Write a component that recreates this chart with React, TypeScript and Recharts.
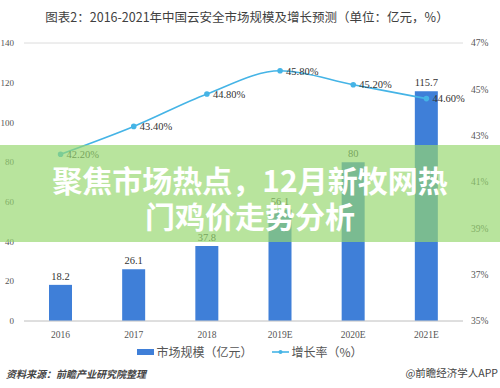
import { ComposedChart, Bar, Line, XAxis, YAxis, CartesianGrid, LabelList } from "recharts";

const years = ["2016", "2017", "2018", "2019E", "2020E", "2021E"];
const marketSize = [18.2, 26.1, 37.8, 56.1, 80, 115.7];
const growthRate = [42.2, 43.4, 44.8, 45.8, 45.2, 44.6];
const leftTicks = [0, 20, 40, 60, 80, 100, 120, 140];
const rightTicks = [35, 37, 39, 41, 43, 45, 47];

const data = years.map((year, i) => ({ year, size: marketSize[i], rate: growthRate[i] }));

const serif = "'Liberation Serif', 'DejaVu Serif', serif";
const cjk = "'Noto Sans CJK SC', sans-serif";
const barColor = "#3f7fd8";
const lineColor = "#45b4e6";

export default function App() {
  return (
    <div
      style={{
        position: "absolute",
        left: 0,
        top: 0,
        width: 500,
        height: 388,
        background: "#fff",
        overflow: "hidden",
        fontFamily: cjk,
      }}
    >
      <div
        style={{
          position: "absolute",
          top: 7,
          left: 0,
          width: 494,
          textAlign: "center",
          fontSize: 12.5,
          color: "#404040",
        }}
      >
        图表2：2016-2021年中国云安全市场规模及增长预测（单位：亿元，%）
      </div>

      <ComposedChart width={500} height={388} data={data} margin={{ top: 43, right: 0, left: 0, bottom: 47 }}>
        <CartesianGrid vertical={false} stroke="#dcdcdc" />
        <XAxis
          dataKey="year"
          height={20}
          tickLine={false}
          axisLine={{ stroke: "#d0d0d0" }}
          tick={{ fontSize: 9.5, fill: "#555", fontFamily: serif }}
          tickMargin={4}
        />
        <YAxis
          yAxisId="left"
          width={24}
          domain={[0, 140]}
          ticks={leftTicks}
          tickLine={false}
          axisLine={false}
          tickMargin={4}
          tick={{ fontSize: 9, fill: "#555", fontFamily: serif }}
        />
        <YAxis
          yAxisId="right"
          orientation="right"
          width={37}
          domain={[35, 47]}
          ticks={rightTicks}
          tickLine={false}
          axisLine={false}
          tickFormatter={(v) => `${v}%`}
          tick={{ fontSize: 9.5, fill: "#555", fontFamily: serif }}
        />
        <Bar yAxisId="left" dataKey="size" fill={barColor} barSize={23} isAnimationActive={false}>
          <LabelList dataKey="size" position="top" offset={5} style={{ fontSize: 10.5, fill: "#333", fontFamily: serif }} />
        </Bar>
        <Line
          yAxisId="right"
          type="monotone"
          dataKey="rate"
          stroke={lineColor}
          strokeWidth={1.6}
          dot={{ r: 2, fill: lineColor, stroke: lineColor }}
          isAnimationActive={false}
        >
          <LabelList
            dataKey="rate"
            position="right"
            offset={6}
            formatter={(v: number) => `${v.toFixed(2)}%`}
            style={{ fontSize: 10.5, fill: "#333", fontFamily: serif }}
          />
        </Line>
      </ComposedChart>

      <div
        style={{
          position: "absolute",
          top: 343,
          left: 0,
          width: 500,
          display: "flex",
          justifyContent: "center",
          alignItems: "center",
          fontSize: 12,
          color: "#555",
          gap: 20,
        }}
      >
        <span style={{ display: "flex", alignItems: "center" }}>
          <span style={{ width: 17, height: 6, background: barColor, marginRight: 2 }} />
          市场规模（亿元）
        </span>
        <span style={{ display: "flex", alignItems: "center" }}>
          <svg width={17} height={8} style={{ marginRight: 2 }}>
            <line x1={0} y1={4} x2={17} y2={4} stroke={lineColor} strokeWidth={1.6} />
            <circle cx={8.5} cy={4} r={2} fill={lineColor} />
          </svg>
          增长率（%）
        </span>
      </div>

      <div
        style={{
          position: "absolute",
          top: 366,
          left: 6,
          fontSize: 10,
          fontStyle: "italic",
          fontWeight: "bold",
          color: "#444",
        }}
      >
        资料来源：前瞻产业研究院整理
      </div>
      <div style={{ position: "absolute", top: 365, right: 2, fontSize: 10.5, color: "#444" }}>@前瞻经济学人APP</div>

      <div
        style={{
          position: "absolute",
          top: 145,
          left: 0,
          width: 500,
          height: 97,
          background: "rgba(151, 215, 110, 0.68)",
          color: "#fff",
          fontWeight: "bold",
          fontSize: 30,
          lineHeight: "36px",
          textAlign: "center",
          paddingTop: 16,
          boxSizing: "border-box",
        }}
      >
        <div>聚焦市场热点，12月新牧网热</div>
        <div>门鸡价走势分析</div>
      </div>
    </div>
  );
}
